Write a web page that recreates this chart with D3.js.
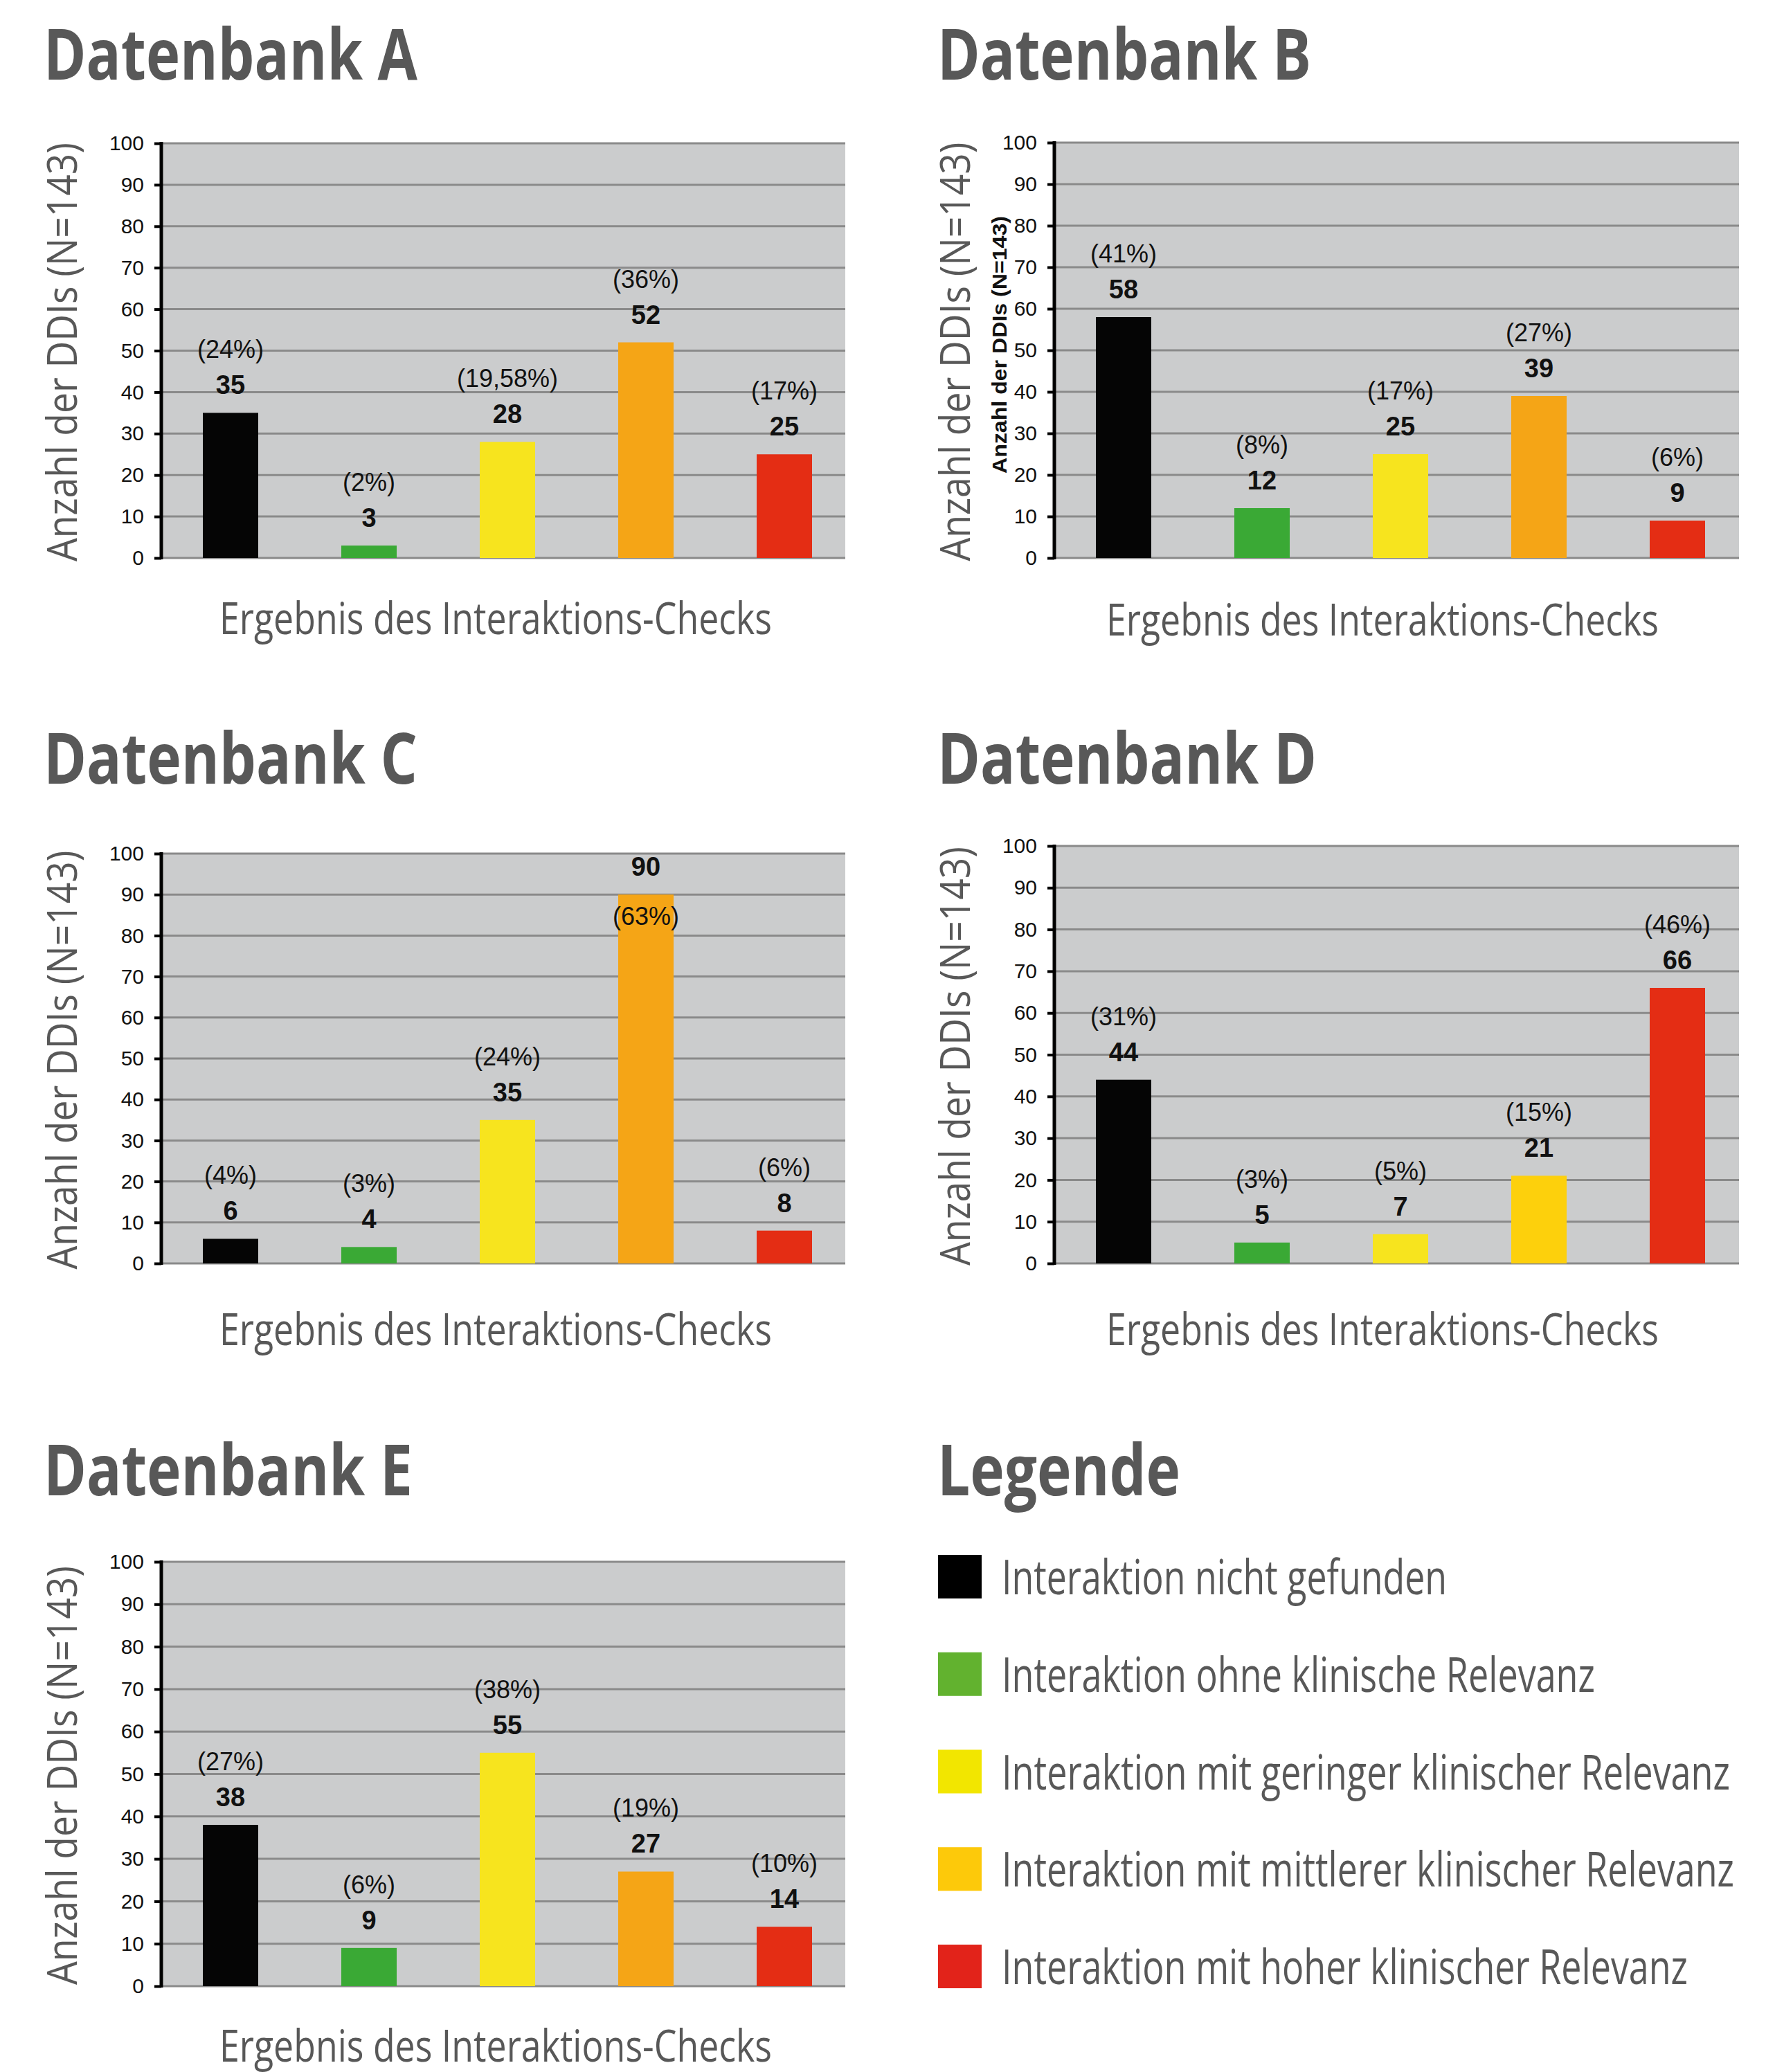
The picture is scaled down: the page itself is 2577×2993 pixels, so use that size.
<!DOCTYPE html>
<html>
<head>
<meta charset="utf-8">
<script src="https://cdn.jsdelivr.net/npm/d3@7"></script>
<style>
  body { margin: 0; background: #fff; }
  svg { display: block; }
</style>
</head>
<body>
<script>
var WIDTH = 2577;
var HEIGHT = 2993;

// categories of the interaction check result
var categories = ['nicht gefunden', 'ohne Relevanz', 'geringe Relevanz', 'mittlere Relevanz', 'hohe Relevanz'];
var barColors = ['#050505', '#3aa935', '#f7e41e', '#f5a516', '#e42d14'];

var valuesA = [35, 3, 28, 52, 25];
var percentA = ['(24%)', '(2%)', '(19,58%)', '(36%)', '(17%)'];
var valuesB = [58, 12, 25, 39, 9];
var percentB = ['(41%)', '(8%)', '(17%)', '(27%)', '(6%)'];
var valuesC = [6, 4, 35, 90, 8];
var percentC = ['(4%)', '(3%)', '(24%)', '(63%)', '(6%)'];
var valuesD = [44, 5, 7, 21, 66];
var percentD = ['(31%)', '(3%)', '(5%)', '(15%)', '(46%)'];
var valuesE = [38, 9, 55, 27, 14];
var percentE = ['(27%)', '(6%)', '(38%)', '(19%)', '(10%)'];

var tickValues = [0, 10, 20, 30, 40, 50, 60, 70, 80, 90, 100];

var legendLabels = [
    'Interaktion nicht gefunden',
    'Interaktion ohne klinische Relevanz',
    'Interaktion mit geringer klinischer Relevanz',
    'Interaktion mit mittlerer klinischer Relevanz',
    'Interaktion mit hoher klinischer Relevanz'
];
var legendColors = ['#000000', '#62b22f', '#f2e600', '#fdc90a', '#e2231a'];

var yTitle = 'Anzahl der DDIs (N=143)';
var xTitle = 'Ergebnis des Interaktions-Checks';

var GREY_TEXT = '#585858';
var HEAD_FONT = '"Open Sans", "Noto Sans", sans-serif';
var CHART_FONT = '"Liberation Sans", Arial, sans-serif';

var panels = [
    {title: 'Datenbank A', values: valuesA, percent: percentA,
        left: 233, right: 1221, top: 207, bottom: 806, titleX: 63, titleY: 115, titleW: 540,
        xLabelX: 716, xLabelY: 916},
    {title: 'Datenbank B', values: valuesB, percent: percentB,
        left: 1523, right: 2512, top: 206, bottom: 806, titleX: 1354, titleY: 115, titleW: 540,
        xLabelX: 1997, xLabelY: 918, smallTitle: true},
    {title: 'Datenbank C', values: valuesC, percent: percentC,
        left: 233, right: 1221, top: 1233, bottom: 1825, titleX: 63, titleY: 1132, titleW: 540,
        xLabelX: 716, xLabelY: 1943, insideIndex: 3},
    {title: 'Datenbank D', values: valuesD, percent: percentD,
        left: 1523, right: 2512, top: 1222, bottom: 1825, titleX: 1354, titleY: 1132, titleW: 548,
        xLabelX: 1997, xLabelY: 1943,
        colors: ['#050505', '#3aa935', '#f7e41e', '#fdd00c', '#e42d14']},
    {title: 'Datenbank E', values: valuesE, percent: percentE,
        left: 233, right: 1221, top: 2256, bottom: 2869, titleX: 63, titleY: 2160, titleW: 533,
        xLabelX: 716, xLabelY: 2978}
];

var svg = d3.select('body').append('svg')
    .attr('width', WIDTH)
    .attr('height', HEIGHT);

function drawPanel(p) {
    var g = svg.append('g');
    var colors = p.colors || barColors;

    var yScale = d3.scaleLinear().domain([0, 100]).range([p.bottom, p.top]);
    var xScale = d3.scaleBand()
        .domain(categories)
        .range([p.left, p.left + 1000])
        .paddingInner(0.6)
        .paddingOuter(0.3);

    // title
    g.append('text')
        .attr('x', p.titleX)
        .attr('y', p.titleY)
        .attr('textLength', p.titleW)
        .attr('lengthAdjust', 'spacingAndGlyphs')
        .style('font-family', HEAD_FONT)
        .style('font-weight', 700)
        .style('font-size', '102px')
        .style('fill', GREY_TEXT)
        .text(p.title);

    // plot background
    g.append('rect')
        .attr('x', p.left)
        .attr('y', p.top)
        .attr('width', p.right - p.left)
        .attr('height', p.bottom - p.top)
        .attr('fill', '#cbcccd');

    // grid lines
    g.selectAll('.grid')
        .data(tickValues)
        .enter()
        .append('line')
        .attr('x1', p.left)
        .attr('x2', p.right)
        .attr('y1', function(d){ return yScale(d); })
        .attr('y2', function(d){ return yScale(d); })
        .attr('stroke', '#8a8a8a')
        .attr('stroke-width', 3);

    // bars
    g.selectAll('.bar')
        .data(p.values)
        .enter()
        .append('rect')
        .attr('x', function(datum, index){ return xScale(categories[index]); })
        .attr('y', function(datum){ return yScale(datum); })
        .attr('width', xScale.bandwidth())
        .attr('height', function(datum){ return p.bottom - yScale(datum); })
        .attr('fill', function(datum, index){ return colors[index]; });

    // value labels
    g.selectAll('.val')
        .data(p.values)
        .enter()
        .append('text')
        .attr('x', function(datum, index){ return xScale(categories[index]) + xScale.bandwidth() / 2; })
        .attr('y', function(datum){ return yScale(datum) - 27; })
        .attr('text-anchor', 'middle')
        .style('font-family', CHART_FONT)
        .style('font-weight', 700)
        .style('font-size', '38px')
        .style('fill', '#111')
        .text(function(datum){ return datum; });

    g.selectAll('.pct')
        .data(p.percent)
        .enter()
        .append('text')
        .attr('x', function(datum, index){ return xScale(categories[index]) + xScale.bandwidth() / 2; })
        .attr('y', function(datum, index){
            if (index === p.insideIndex) return yScale(p.values[index]) + 44;
            return yScale(p.values[index]) - 79;
        })
        .attr('text-anchor', 'middle')
        .style('font-family', CHART_FONT)
        .style('font-size', '36px')
        .style('fill', '#111')
        .text(function(datum){ return datum; });

    // left axis
    var leftAxis = d3.axisLeft(yScale)
        .tickValues(tickValues)
        .tickSize(10)
        .tickPadding(15);
    var axisG = g.append('g')
        .attr('transform', 'translate(' + p.left + ',0)')
        .call(leftAxis);
    axisG.select('.domain').remove();
    axisG.selectAll('.tick line')
        .attr('stroke', '#000')
        .attr('stroke-width', 4);
    axisG.selectAll('.tick text')
        .style('font-family', CHART_FONT)
        .style('font-size', '30px')
        .style('fill', '#111');
    g.append('line')
        .attr('x1', p.left)
        .attr('x2', p.left)
        .attr('y1', p.top - 2)
        .attr('y2', p.bottom + 2)
        .attr('stroke', '#000')
        .attr('stroke-width', 5);

    // y title
    var yMid = (p.top + p.bottom) / 2 + 2;
    g.append('text')
        .attr('transform', 'translate(' + (p.left - 122) + ',' + yMid + ') rotate(-90)')
        .attr('text-anchor', 'middle')
        .attr('textLength', 605)
        .attr('lengthAdjust', 'spacingAndGlyphs')
        .style('font-family', HEAD_FONT)
        .style('font-size', '60px')
        .style('fill', GREY_TEXT)
        .text(yTitle);

    // stray small axis title in panel B
    if (p.smallTitle) {
        g.append('text')
            .attr('transform', 'translate(' + (p.left - 69) + ',' + 498 + ') rotate(-90)')
            .attr('text-anchor', 'middle')
            .attr('textLength', 372)
            .attr('lengthAdjust', 'spacingAndGlyphs')
            .style('font-family', CHART_FONT)
            .style('font-weight', 700)
            .style('font-size', '29px')
            .style('fill', '#111')
            .text(yTitle);
    }

    // x title
    g.append('text')
        .attr('x', p.xLabelX)
        .attr('y', p.xLabelY)
        .attr('text-anchor', 'middle')
        .attr('textLength', 798)
        .attr('lengthAdjust', 'spacingAndGlyphs')
        .style('font-family', HEAD_FONT)
        .style('font-size', '64px')
        .style('fill', GREY_TEXT)
        .text(xTitle);
}

panels.forEach(drawPanel);

// legend
var legendG = svg.append('g');
legendG.append('text')
    .attr('x', 1354)
    .attr('y', 2160)
    .attr('textLength', 351)
    .attr('lengthAdjust', 'spacingAndGlyphs')
    .style('font-family', HEAD_FONT)
    .style('font-weight', 700)
    .style('font-size', '102px')
    .style('fill', GREY_TEXT)
    .text('Legende');

var legendScale = d3.scalePoint()
    .domain(legendLabels)
    .range([2277, 2840]);
var legendWidths = [643, 857, 1052, 1058, 991];

legendG.selectAll('.sw')
    .data(legendLabels)
    .enter()
    .append('rect')
    .attr('x', 1355)
    .attr('y', function(d){ return legendScale(d) - 31; })
    .attr('width', 63)
    .attr('height', 63)
    .attr('fill', function(d, i){ return legendColors[i]; });

legendG.selectAll('.lt')
    .data(legendLabels)
    .enter()
    .append('text')
    .attr('x', 1447)
    .attr('y', function(d){ return legendScale(d) + 26; })
    .attr('textLength', function(d, i){ return legendWidths[i]; })
    .attr('lengthAdjust', 'spacingAndGlyphs')
    .style('font-family', HEAD_FONT)
    .style('font-size', '70px')
    .style('fill', GREY_TEXT)
    .text(function(d){ return d; });
</script>
</body>
</html>
